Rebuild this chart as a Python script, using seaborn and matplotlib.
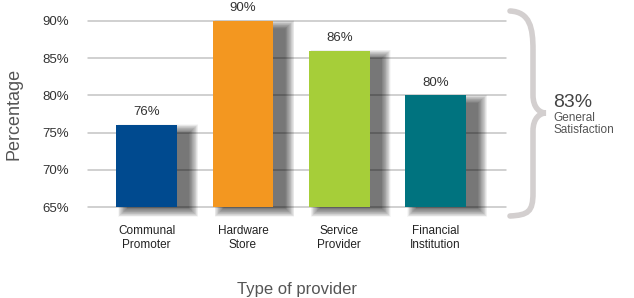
import matplotlib
matplotlib.use("Agg")
import matplotlib.pyplot as plt
import seaborn as sns
import pandas as pd
from matplotlib.patches import Rectangle, PathPatch
from matplotlib.path import Path

categories = ["Communal\nPromoter", "Hardware\nStore", "Service\nProvider", "Financial\nInstitution"]
values = [76, 90, 86, 80]
labels = ["76%", "90%", "86%", "80%"]
colors = ["#004a8f", "#f39720", "#a6ce39", "#00737f"]
yticks = [65, 70, 75, 80, 85, 90]
ytick_labels = ["65%", "70%", "75%", "80%", "85%", "90%"]
overall = "83%"
overall_label = "General\nSatisfaction"

sns.set_theme(style="white")
plt.rcParams["font.family"] = ["Liberation Sans", "DejaVu Sans"]

df = pd.DataFrame({"cat": categories, "val": values})
fig = plt.figure(figsize=(6.34, 2.98), dpi=100)
ax = fig.add_axes([0.139, 0.305, 0.659, 0.625])

sns.barplot(data=df, x="cat", y="val", hue="cat", palette=colors, legend=False,
            width=0.63, ax=ax, zorder=3, saturation=1, linewidth=0)

ax.set_ylim(65, 90)
ax.set_xlim(-0.607, 3.73)

clip = Rectangle((0, -0.15), 1, 1.3, transform=ax.transAxes, facecolor="none", edgecolor="none")
ax.add_patch(clip)

bars = list(ax.patches[:len(values)])
# soft drop shadows derived from bar geometry
N = 22
for p in bars:
    x, w, h = p.get_x(), p.get_width(), p.get_height()
    top = p.get_y() + h
    for i in range(N):
        f = (N - i) / N
        gx = 0.1 * f
        gy = 1.2 * f
        y0 = 65 - 0.1 - gy
        y1 = top - 1.1 + gy
        r = Rectangle((x + 0.12 - gx, y0), w + 2 * gx, y1 - y0,
                      facecolor="black", edgecolor="none", alpha=0.033, zorder=2)
        ax.add_patch(r)
        r.set_clip_path(clip)

for i, (v, lab) in enumerate(zip(values, labels)):
    ax.text(i, v + 0.9, lab, ha="center", va="bottom", fontsize=9.5, color="#333333")

ax.set_yticks(yticks)
ax.set_yticklabels(ytick_labels, fontsize=9.5, color="#333333")
ax.tick_params(axis="x", labelsize=8.5, colors="#222222", length=0, pad=13)
ax.tick_params(axis="y", length=0, pad=14)
ax.yaxis.grid(True, color="#c4c4c4", linewidth=1.1, zorder=0)
for gl in ax.get_ygridlines():
    gl.set_clip_on(False)
ax.set_axisbelow(True)
for s in ax.spines.values():
    s.set_visible(False)

ax.set_ylabel("Percentage", fontsize=13, color="#555555", labelpad=14)
ax.set_xlabel("Type of provider", fontsize=12, color="#555555", labelpad=22)

# curly brace
W, H = 634, 298
def fp(px, py):
    return (px / W, 1 - py / H)
verts = [fp(510, 11), fp(530, 12), fp(533, 28), fp(533, 50),
         fp(533, 95),
         fp(533, 108), fp(540, 113), fp(546, 113),
         fp(540, 113), fp(533, 118), fp(533, 131),
         fp(533, 193),
         fp(533, 212), fp(528, 215), fp(510, 216)]
codes = [Path.MOVETO, Path.CURVE4, Path.CURVE4, Path.CURVE4,
         Path.LINETO,
         Path.CURVE4, Path.CURVE4, Path.CURVE4,
         Path.CURVE4, Path.CURVE4, Path.CURVE4,
         Path.LINETO,
         Path.CURVE4, Path.CURVE4, Path.CURVE4]
fig.patches.append(PathPatch(Path(verts, codes), transform=fig.transFigure,
                             facecolor="none", edgecolor="#d3cfcf", linewidth=4,
                             capstyle="round"))

fig.text(553 / W, 1 - 102 / H, overall, fontsize=14, color="#444444", va="center")
fig.text(553 / W, 1 - 112 / H, overall_label, fontsize=8.5, color="#555555",
         va="top", linespacing=1.0)

fig.savefig("out.png", dpi=100)
